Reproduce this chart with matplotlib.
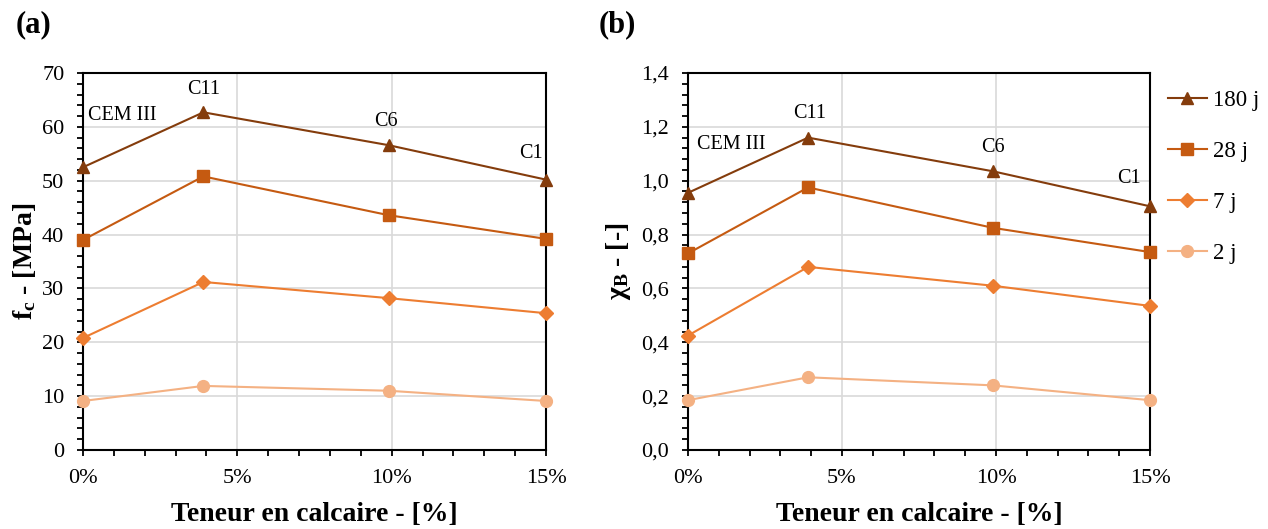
import matplotlib
matplotlib.use("Agg")
import matplotlib.pyplot as plt
from matplotlib.ticker import MultipleLocator, FuncFormatter

plt.rcParams['font.family'] = ['Liberation Serif', 'DejaVu Serif']
plt.rcParams['mathtext.fontset'] = 'custom'
plt.rcParams['mathtext.rm'] = 'Liberation Serif'
plt.rcParams['mathtext.bf'] = 'Liberation Serif:bold'

# Data
limestone = [0.0, 0.039, 0.099, 0.15]
cements = ["CEM III", "C11", "C6", "C1"]
ages = ["180 j", "28 j", "7 j", "2 j"]

fc_180 = [52.5, 62.7, 56.6, 50.2]
fc_28 = [39.0, 50.8, 43.6, 39.2]
fc_7 = [20.8, 31.2, 28.2, 25.4]
fc_2 = [9.1, 11.9, 11.0, 9.1]

chi_180 = [0.955, 1.160, 1.035, 0.905]
chi_28 = [0.730, 0.975, 0.825, 0.735]
chi_7 = [0.425, 0.680, 0.610, 0.535]
chi_2 = [0.185, 0.270, 0.240, 0.185]

colors = ["#843C0C", "#C55A11", "#ED7D31", "#F4B183"]
markers = ["^", "s", "D", "o"]
msizes = [8, 8.5, 7, 8.5]

# label positions (data coords)
lab_a = [(0.0126, 62.1), (0.039, 67.0), (0.098, 61.0), (0.145, 55.0)]
lab_b = [(0.014, 1.133), (0.0396, 1.248), (0.099, 1.122), (0.143, 1.01)]

W, H = 1268, 529
fig = plt.figure(figsize=(W / 100, H / 100), dpi=100)
ax1 = fig.add_axes([83 / W, 1 - 450 / H, (546 - 83) / W, (450 - 73) / H])
ax2 = fig.add_axes([688 / W, 1 - 450 / H, (1150 - 688) / W, (450 - 73) / H])

def style(ax, ymax, ymajor, yminor, yfmt):
    ax.set_xlim(0, 0.15)
    ax.set_ylim(0, ymax)
    ax.xaxis.set_major_locator(MultipleLocator(0.05))
    ax.xaxis.set_minor_locator(MultipleLocator(0.01))
    ax.yaxis.set_major_locator(MultipleLocator(ymajor))
    ax.yaxis.set_minor_locator(MultipleLocator(yminor))
    ax.xaxis.set_major_formatter(FuncFormatter(lambda v, p: f"{v*100:.0f}%"))
    ax.yaxis.set_major_formatter(FuncFormatter(yfmt))
    ax.grid(True, which='major', color='#d9d9d9', linewidth=1.2)
    ax.set_axisbelow(True)
    ax.tick_params(which='both', direction='out', length=4.5, width=1.3, labelsize=16, colors='black')
    ax.tick_params(axis='x', which='major', pad=9)
    ax.tick_params(axis='y', which='major', pad=9)
    for s in ax.spines.values():
        s.set_linewidth(1.5)
        s.set_color('black')
    ax.set_xlabel("Teneur en calcaire - [%]", fontsize=20, fontweight='bold', labelpad=10)

series_a = [fc_180, fc_28, fc_7, fc_2]
series_b = [chi_180, chi_28, chi_7, chi_2]

for ax, series in ((ax1, series_a), (ax2, series_b)):
    for ys, c, m, ms, lab in zip(series, colors, markers, msizes, ages):
        ax.plot(limestone, ys, color=c, marker=m, markersize=ms, linewidth=1.5,
                label=lab, clip_on=False, zorder=3)

style(ax1, 70, 10, 2, lambda v, p: f"{v:.0f}")
style(ax2, 1.4, 0.2, 0.04, lambda v, p: f"{v:.1f}".replace('.', ','))

ax1.set_ylabel(r"$\mathbf{f_c}$ - [MPa]", fontsize=20, fontweight='bold', labelpad=3)
ax2.set_ylabel(r"$\mathbf{χ_B}$ - [-]", fontsize=20, fontweight='bold', labelpad=6)

for (x, y), t in zip(lab_a, cements):
    ax1.text(x, y, t, fontsize=14.5, ha='center', va='center')
for (x, y), t in zip(lab_b, cements):
    ax2.text(x, y, t, fontsize=14.5, ha='center', va='center')

fig.text(16 / W, 1 - 25 / H, "(a)", fontsize=22, fontweight='bold', va='center', ha='left')
fig.text(599 / W, 1 - 25 / H, "(b)", fontsize=22, fontweight='bold', va='center', ha='left')

handles, labels = ax2.get_legend_handles_labels()
fig.legend(handles, labels, loc='upper left', bbox_to_anchor=(1168 / W, 1 - 90 / H),
           frameon=False, fontsize=16.5, handlelength=1.7, labelspacing=1.3,
           handletextpad=0.25, borderaxespad=0, borderpad=0)

fig.savefig("out.png", dpi=100)
